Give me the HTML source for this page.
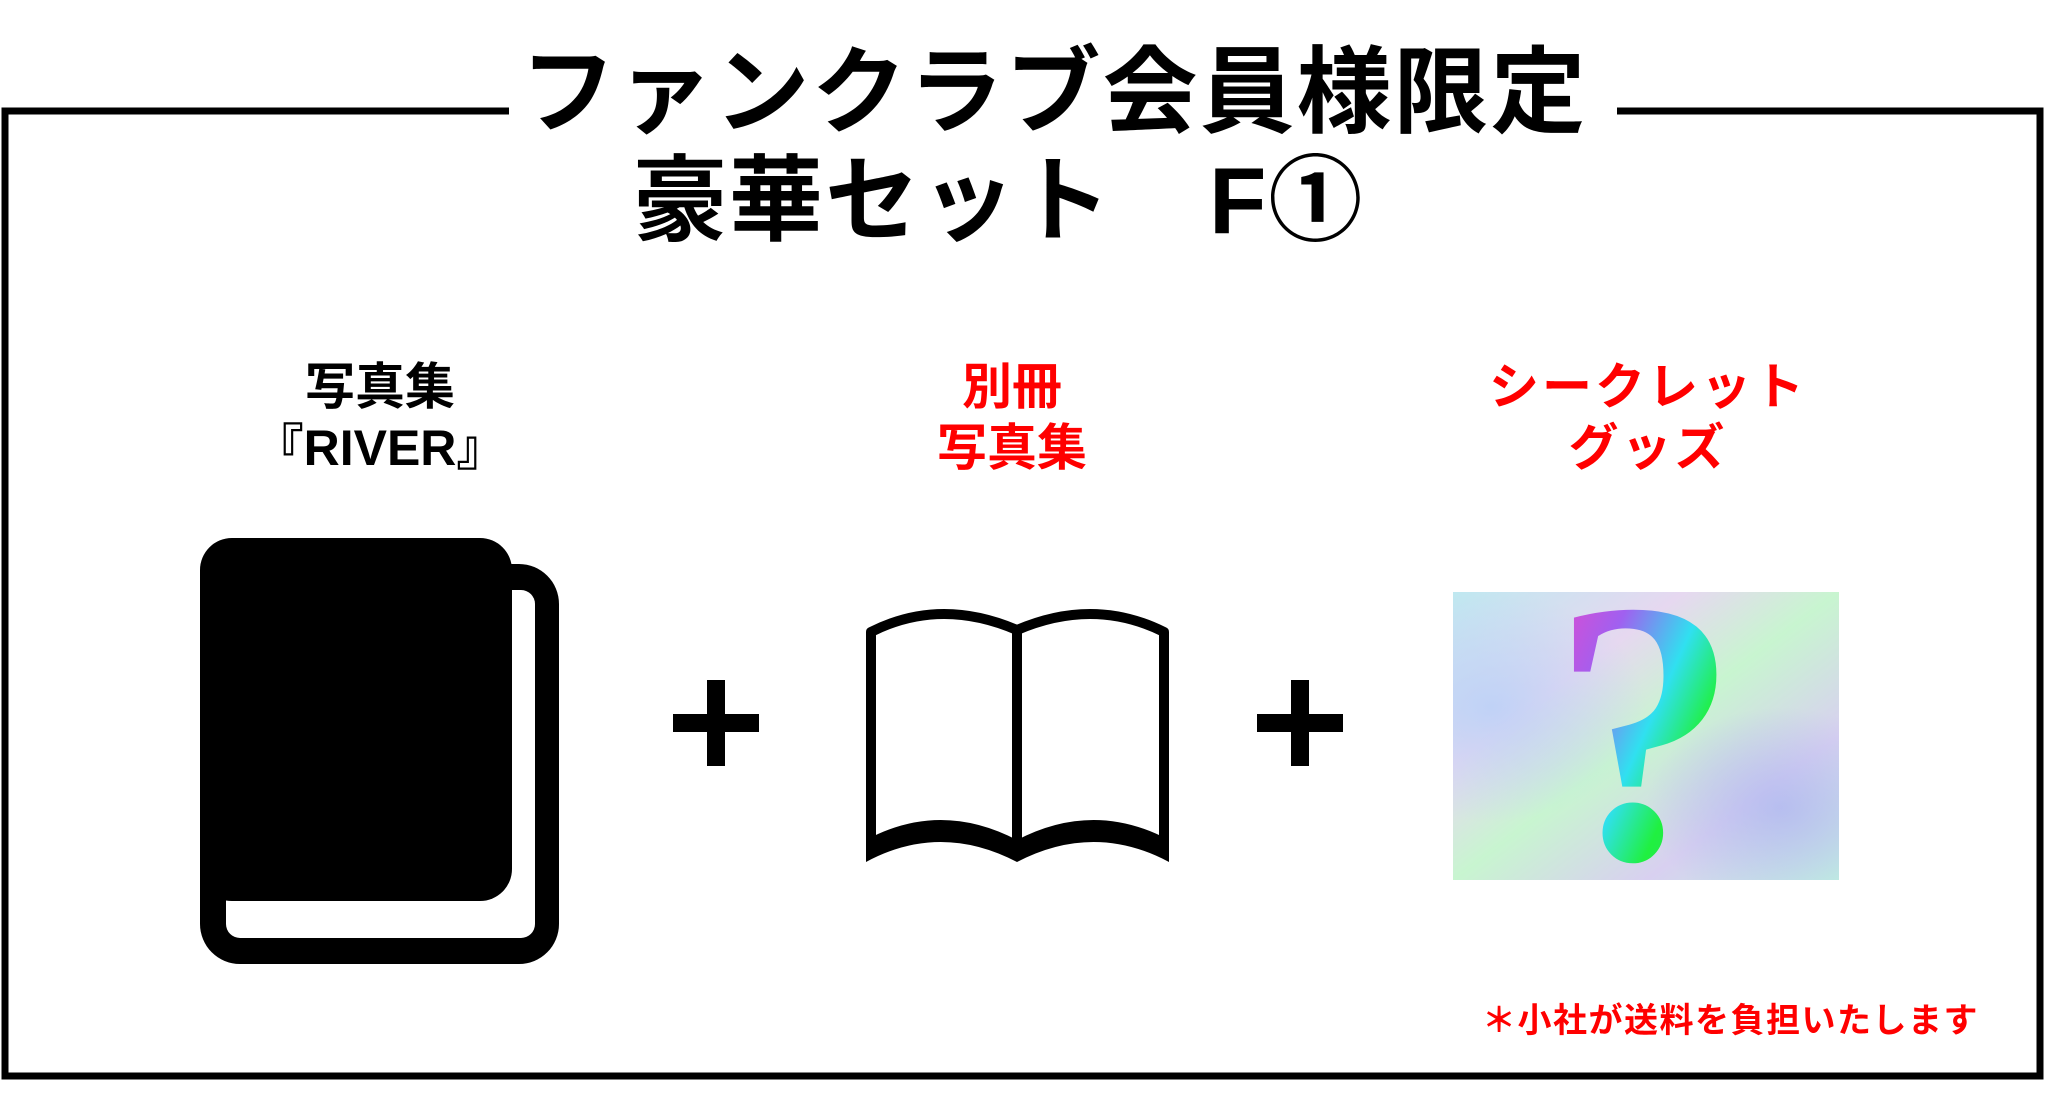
<!DOCTYPE html>
<html><head><meta charset="utf-8"><style>
html,body{margin:0;padding:0;background:#fff;}
body{width:2048px;height:1107px;position:relative;overflow:hidden;font-family:"Liberation Sans","Noto Sans CJK JP",sans-serif;}
.t{position:absolute;white-space:nowrap;font-weight:bold;text-align:center;line-height:1;}
</style></head><body>
<svg width="2048" height="1107" style="position:absolute;left:0;top:0">
<defs>
<linearGradient id="bg" x1="0" y1="0" x2="1" y2="1">
<stop offset="0" stop-color="#bfe8f0"/><stop offset="0.3" stop-color="#e6d8f0"/><stop offset="0.5" stop-color="#c8f5d0"/><stop offset="0.75" stop-color="#d8d0f0"/><stop offset="1" stop-color="#c0f0e0"/>
</linearGradient>
<radialGradient id="b1" cx="0.1" cy="0.4" r="0.4"><stop offset="0" stop-color="#b8d0f8" stop-opacity="0.8"/><stop offset="1" stop-color="#b8d0f8" stop-opacity="0"/></radialGradient>
<radialGradient id="b2" cx="0.85" cy="0.75" r="0.35"><stop offset="0" stop-color="#b0b8f0" stop-opacity="0.8"/><stop offset="1" stop-color="#b0b8f0" stop-opacity="0"/></radialGradient>
<linearGradient id="q" x1="0" y1="0" x2="1" y2="1">
<stop offset="0" stop-color="#ff40c0"/><stop offset="0.3" stop-color="#a060f0"/><stop offset="0.5" stop-color="#30e0f0"/><stop offset="0.65" stop-color="#20f040"/><stop offset="1" stop-color="#30d080"/>
</linearGradient>
</defs>
<path d="M509 111 H5 V1076 H2040 V111 H1617" fill="none" stroke="#000" stroke-width="7"/>
<rect x="200" y="564" width="359" height="400" rx="40" fill="#000"/>
<rect x="226" y="590" width="309" height="348" rx="14" fill="#fff"/>
<rect x="200" y="538" width="312" height="363" rx="32" fill="#000"/>
<rect x="673" y="714" width="86" height="18" fill="#000"/><rect x="707" y="680" width="18" height="86" fill="#000"/>
<rect x="1257" y="714" width="86" height="18" fill="#000"/><rect x="1291" y="680" width="18" height="86" fill="#000"/>
<g fill="none" stroke="#000" stroke-width="10" stroke-linejoin="round">
<path d="M871 853 V632 Q940 597 1017 630 Q1094 597 1164 632 V853"/>
<line x1="1017" y1="630" x2="1017" y2="850"/>
</g>
<path d="M866 840 Q940 800 1017 840 Q1094 800 1169 840 V862 Q1094 822 1017 862 Q940 822 866 862 Z" fill="#000"/>
<rect x="1453" y="592" width="386" height="288" fill="url(#bg)"/>
<rect x="1453" y="592" width="386" height="288" fill="url(#b1)"/>
<rect x="1453" y="592" width="386" height="288" fill="url(#b2)"/>
<text x="1645" y="858" text-anchor="middle" font-family="Liberation Serif,serif" font-weight="bold" font-size="375" fill="url(#q)">?</text>
</svg>
<div class="t" style="left:0;width:2048px;top:46px;font-size:95px;letter-spacing:2px;color:#000;"><span style="margin-left:60px">ファンクラブ会員様限定</span></div>
<div class="t" style="left:633px;top:154px;font-size:94px;letter-spacing:2px;color:#000;">豪華セット　F①</div>
<div class="t" style="left:230px;width:300px;top:357px;font-size:50px;color:#000;line-height:61px;">写真集<br>『RIVER』</div>
<div class="t" style="left:862px;width:300px;top:357px;font-size:50px;color:#f00;line-height:61px;">別冊<br>写真集</div>
<div class="t" style="left:1448px;width:400px;top:357px;font-size:50px;color:#f00;line-height:61px;letter-spacing:3px;">シークレット<br>グッズ</div>
<div class="t" style="left:1482px;top:1004px;font-size:34px;letter-spacing:1.5px;color:#f00;">＊小社が送料を負担いたします</div>
</body></html>
